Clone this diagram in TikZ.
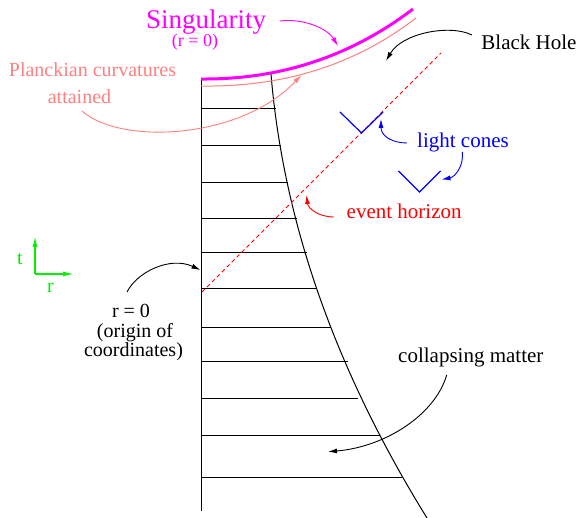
\documentclass[tikz,border=0pt]{standalone}
\usepackage{fontspec}
\setmainfont{Liberation Serif}
\newfontfamily\tfont{Liberation Serif}
\usetikzlibrary{arrows.meta}
\definecolor{pinkc}{RGB}{255,128,128}
\definecolor{magc}{RGB}{255,0,255}
\definecolor{grnc}{RGB}{0,240,0}
\begin{document}
\begin{tikzpicture}[x=1pt,y=-1pt,
  txt/.style={inner sep=0pt, font=\tfont\fontsize{21}{25}\selectfont},
  smalltxt/.style={inner sep=0pt, font=\tfont\fontsize{20}{24}\selectfont},
  thinline/.style={line width=1pt},
  arr/.style={line width=0.9pt, -{Latex[length=9pt,width=5pt]}},
  axisarr/.style={line width=1.4pt, draw=grnc, -{Latex[length=11pt,width=5pt]}},
  cone/.style={line width=1.2pt, draw=blue},
]
\useasboundingbox (0,0) rectangle (579,518);

% key coordinates
\coordinate (origtop) at (201,79);
\coordinate (origbot) at (201,511);
\coordinate (mattop) at (271,74);
\coordinate (matbot) at (427,518);
\coordinate (singend) at (413,9);

% origin line and collapsing matter boundary
\draw[thinline] (origtop) -- (origbot);
\draw[thinline] (mattop) .. controls (283.3,222) and (335.3,370) .. (matbot);

% horizontal lines
\foreach \yy/\xx in {109/276,146/281,183/288,219/297,253/307,289/317,328/331,362/348,399/358,436/380,478/402}
  \draw[thinline] (201,\yy) -- (\xx,\yy);

% singularity and Planckian curves
\draw[magc, line width=3pt] (origtop) .. controls (280.3,79.7) and (351,56.3) .. (singend);
\coordinate (plstart) at (201,86);
\coordinate (plend) at (416,18);
\draw[pinkc, line width=1pt] (plstart) .. controls (283.7,87.3) and (355.3,64.7) .. (plend);

% event horizon
\coordinate (ehbot) at (202,292);
\coordinate (ehtop) at (441,53);
\draw[red, line width=1pt, dash pattern=on 4pt off 3pt] (ehbot) -- (ehtop);

% light cones
\coordinate (c1l) at (340,112);
\coordinate (c1v) at (361.5,133);
\coordinate (c1r) at (383,112);
\draw[cone] (c1l) -- (c1v) -- (c1r);
\coordinate (c2l) at (398.5,171);
\coordinate (c2v) at (419.5,192);
\coordinate (c2r) at (440.5,171);
\draw[cone] (c2l) -- (c2v) -- (c2r);

% axes
\coordinate (ax0) at (35,274);
\coordinate (axt) at (35,236);
\coordinate (axr) at (74,274);
\draw[axisarr] (ax0) -- (axt);
\draw[axisarr] (ax0) -- (axr);
\node[smalltxt, text=grnc, anchor=base] (tlab) at (20,265) {t};
\node[smalltxt, text=grnc, anchor=base] (rlab) at (50.5,292.5) {r};

% texts
\node[inner sep=0pt, font=\tfont\fontsize{27}{30}\selectfont, text=magc, anchor=base] (sing) at (206,28.3) {Singularity};
\node[inner sep=0pt, font=\tfont\fontsize{18}{22}\selectfont, text=magc, anchor=base] (singr) at (195,46.5) {(r = 0)};
\node[smalltxt, text=pinkc, anchor=base] (planck) at (92.5,77) {Planckian curvatures};
\node[smalltxt, text=pinkc, anchor=base] (attained) at (79.5,103.3) {attained};
\node[txt, anchor=base] (bh) at (529,50) {Black Hole};
\node[txt, text=blue, anchor=base west] (lc) at (417,148) {light cones};
\node[txt, text=red, anchor=base west] (eh) at (346.5,219) {event horizon};
\node[txt, anchor=base west] (cm) at (398,363) {collapsing matter};
\node[smalltxt, anchor=base] (r0a) at (131,317.3) {r = 0};
\node[smalltxt, anchor=base] (r0b) at (135,338) {(origin of};
\node[smalltxt, anchor=base] (r0c) at (133.5,357) {coordinates)};

% arrows
\coordinate (magS) at (280,21);
\coordinate (magT) at (338,46);
\draw[arr, color=magc] (magS) .. controls (302,18) and (327,28) .. (magT);

\coordinate (bhS) at (472,35);
\coordinate (bhT) at (386,61);
\draw[arr] (bhS) .. controls (450,24) and (402,33) .. (bhT);

\coordinate (plS) at (82,111);
\coordinate (plT) at (301.5,75);
\draw[arr, color=pinkc] (plS) .. controls (120,145) and (240,140) .. (plT);

\coordinate (ehS) at (334,217);
\coordinate (ehT) at (306.5,195);
\draw[arr, color=red] (ehS) .. controls (318,217) and (308,208) .. (ehT);

\coordinate (lc1S) at (407,143);
\coordinate (lc1T) at (381,119);
\draw[arr, color=blue] (lc1S) .. controls (392,143) and (381,136) .. (lc1T);

\coordinate (lc2S) at (462.3,152);
\coordinate (lc2T) at (441.5,179.5);
\draw[arr, color=blue] (lc2S) .. controls (464,166) and (455,177) .. (lc2T);

\coordinate (r0S) at (127,292);
\coordinate (r0T) at (200.5,270);
\draw[arr] (r0S) .. controls (137,272) and (170,256) .. (r0T);

\coordinate (cmS) at (446.7,375);
\coordinate (cmT) at (328,451.7);
\draw[arr] (cmS) .. controls (435,415) and (385,447) .. (cmT);
\end{tikzpicture}
\end{document}
